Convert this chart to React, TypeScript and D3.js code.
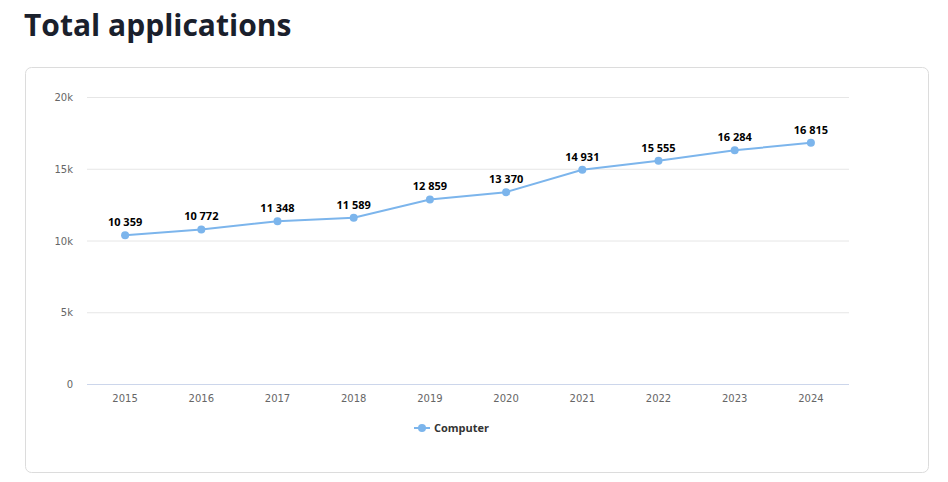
import React, { useEffect, useRef } from 'react';
import * as d3 from 'd3';

const years = ['2015', '2016', '2017', '2018', '2019', '2020', '2021', '2022', '2023', '2024'];
const computer = [10359, 10772, 11348, 11589, 12859, 13370, 14931, 15555, 16284, 16815];
const yTicks = [0, 5000, 10000, 15000, 20000];

const W = 948;
const H = 482;

export default function App() {
  const svgRef = useRef<SVGSVGElement | null>(null);

  useEffect(() => {
    const svg = d3.select(svgRef.current);
    svg.selectAll('*').remove();

    const font = "'DejaVu Sans', Verdana, sans-serif";
    const margin = { left: 87, right: 849, top: 97, bottom: 384 };

    // titulo
    svg
      .append('text')
      .attr('x', 24)
      .attr('y', 36)
      .attr('font-family', "'Open Sans', sans-serif")
      .attr('font-weight', 700)
      .attr('font-size', 30)
      .attr('fill', '#1a202c')
      .text('Total applications');

    // cartao
    svg
      .append('rect')
      .attr('x', 25.5)
      .attr('y', 67.5)
      .attr('width', 903)
      .attr('height', 405)
      .attr('rx', 6)
      .attr('fill', '#fff')
      .attr('stroke', '#dcdcdc');

    const x = d3.scalePoint<string>().domain(years).range([margin.left, margin.right]).padding(0.5);
    const y = d3.scaleLinear().domain([0, 20000]).range([margin.bottom, margin.top]);

    // grade
    svg
      .append('g')
      .selectAll('line')
      .data(yTicks.filter((t) => t > 0))
      .join('line')
      .attr('x1', margin.left)
      .attr('x2', margin.right)
      .attr('y1', (d) => y(d) + 0.5)
      .attr('y2', (d) => y(d) + 0.5)
      .attr('stroke', '#e6e6e6');

    svg
      .append('line')
      .attr('x1', margin.left)
      .attr('x2', margin.right)
      .attr('y1', y(0) + 0.5)
      .attr('y2', y(0) + 0.5)
      .attr('stroke', '#ccd6eb');

    svg
      .append('g')
      .selectAll('text')
      .data(yTicks)
      .join('text')
      .attr('x', 73)
      .attr('y', (d) => y(d) + 4)
      .attr('text-anchor', 'end')
      .attr('font-family', font)
      .attr('font-size', 10)
      .attr('fill', '#666')
      .text((d) => (d === 0 ? '0' : `${d / 1000}k`));

    svg
      .append('g')
      .selectAll('text')
      .data(years)
      .join('text')
      .attr('x', (d) => x(d) as number)
      .attr('y', 402)
      .attr('text-anchor', 'middle')
      .attr('font-family', font)
      .attr('font-size', 10)
      .attr('fill', '#666')
      .text((d) => d);

    const line = d3
      .line<number>()
      .x((_, i) => x(years[i]) as number)
      .y((d) => y(d));

    svg
      .append('path')
      .datum(computer)
      .attr('fill', 'none')
      .attr('stroke', '#7cb5ec')
      .attr('stroke-width', 2)
      .attr('d', line);

    svg
      .append('g')
      .selectAll('circle')
      .data(computer)
      .join('circle')
      .attr('cx', (_, i) => x(years[i]) as number)
      .attr('cy', (d) => y(d))
      .attr('r', 4)
      .attr('fill', '#7cb5ec');

    const fmt = (v: number) => d3.format(',')(v).replace(',', ' ');

    svg
      .append('g')
      .selectAll('text')
      .data(computer)
      .join('text')
      .attr('x', (_, i) => x(years[i]) as number)
      .attr('y', (d) => y(d) - 9)
      .attr('text-anchor', 'middle')
      .attr('font-family', "'Open Sans', sans-serif")
      .attr('font-weight', 700)
      .attr('font-size', 11)
      .attr('fill', '#000')
      .attr('stroke', '#fff')
      .attr('stroke-width', 2)
      .attr('paint-order', 'stroke')
      .text((d) => fmt(d));

    // legenda
    const lg = svg.append('g').attr('transform', 'translate(414,428)');
    lg.append('line').attr('x1', 0).attr('x2', 16).attr('y1', 0).attr('y2', 0).attr('stroke', '#7cb5ec').attr('stroke-width', 2);
    lg.append('circle').attr('cx', 8).attr('cy', 0).attr('r', 4).attr('fill', '#7cb5ec');
    lg.append('text')
      .attr('x', 20)
      .attr('y', 4)
      .attr('font-family', "'Open Sans', sans-serif")
      .attr('font-weight', 700)
      .attr('font-size', 11)
      .attr('fill', '#333')
      .text('Computer');
  }, []);

  return (
    <div style={{ position: 'absolute', left: 0, top: 0 }}>
      <svg ref={svgRef} width={W} height={H} style={{ display: 'block', background: '#fff' }}></svg>
    </div>
  );
}
